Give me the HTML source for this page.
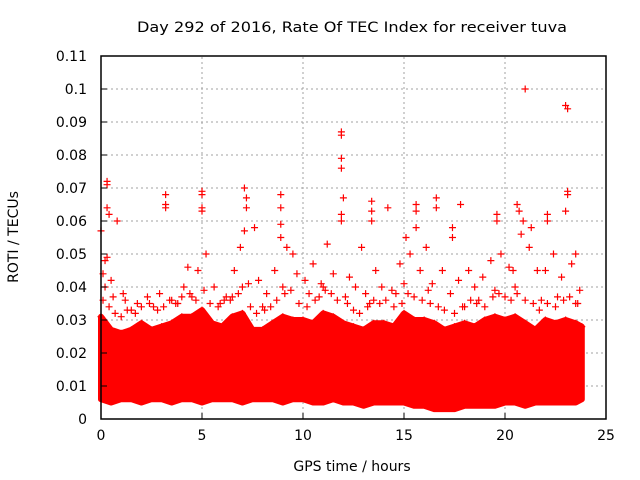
<!DOCTYPE html>
<html><head><meta charset="utf-8"><style>
html,body{margin:0;padding:0;background:#fff;}
svg{display:block;font-family:"DejaVu Sans","Liberation Sans",sans-serif;}
</style></head><body>
<svg id="chart" width="640" height="480" viewBox="0 0 640 480" xmlns="http://www.w3.org/2000/svg">
<rect width="640" height="480" fill="#fff"/>
<g id="grid"></g>
<g id="band"></g>
<g id="pts"></g>
<g id="axes"></g>
<text x="352" y="32" font-size="14" text-anchor="middle" textLength="430" lengthAdjust="spacingAndGlyphs">Day 292 of 2016, Rate Of TEC Index for receiver tuva</text>
<text x="352" y="471" font-size="14" text-anchor="middle">GPS time / hours</text>
<text transform="translate(18,237) rotate(-90)" font-size="14" text-anchor="middle">ROTI / TECUs</text>
</svg>
<script>
const xTicks=[0,5,10,15,20,25];
const yTicks=[0,0.01,0.02,0.03,0.04,0.05,0.06,0.07,0.08,0.09,0.1,0.11];
const yTickLabels=["0","0.01","0.02","0.03","0.04","0.05","0.06","0.07","0.08","0.09","0.1","0.11"];
const bandHours=[0,0.5,1,1.5,2,2.5,3,3.5,4,4.5,5,5.5,6,6.5,7,7.5,8,8.5,9,9.5,10,10.5,11,11.5,12,12.5,13,13.5,14,14.5,15,15.5,16,16.5,17,17.5,18,18.5,19,19.5,20,20.5,21,21.5,22,22.5,23,23.5,23.8];
const bandHi=[0.031,0.027,0.026,0.027,0.029,0.027,0.028,0.029,0.031,0.031,0.033,0.029,0.028,0.031,0.032,0.027,0.027,0.029,0.031,0.030,0.030,0.029,0.032,0.031,0.029,0.028,0.027,0.029,0.029,0.028,0.032,0.030,0.030,0.029,0.027,0.028,0.029,0.028,0.030,0.031,0.030,0.031,0.029,0.027,0.030,0.029,0.030,0.029,0.028];
const bandLo=[0.006,0.005,0.006,0.006,0.005,0.006,0.006,0.005,0.006,0.006,0.005,0.006,0.006,0.006,0.005,0.006,0.006,0.006,0.005,0.006,0.006,0.005,0.005,0.006,0.005,0.005,0.004,0.005,0.005,0.005,0.005,0.004,0.004,0.003,0.003,0.003,0.004,0.004,0.004,0.004,0.005,0.005,0.004,0.005,0.005,0.005,0.005,0.005,0.006];
const ptHours=[0,0.3,0.3,0.3,0.4,0.8,0.2,0.3,0.1,0.5,1.1,3.2,3.2,3.2,5,5,5,5,7.1,7.2,7.2,7.1,7.6,8.9,8.9,8.9,8.9,11.9,11.9,11.9,11.9,12,11.9,11.9,12.9,13.4,13.4,13.4,14.2,15.6,15.6,15.6,16.6,16.6,17.8,17.4,17.4,19.6,19.6,20.6,20.7,21,20.9,21.3,22.1,22.1,23,23.1,23.1,23.1,23,23.5,
0.2,0.6,1.2,1.8,2.3,2.9,3.5,4.1,4.3,4.8,5.2,5.6,6.2,6.6,6.9,7.3,7.8,8.2,8.6,9.2,9.5,9.7,10.1,10.5,10.9,11.2,11.5,12.3,12.6,13.1,13.6,13.9,14.4,14.8,15.1,15.3,15.8,16.1,16.4,16.9,17.3,17.7,18.2,18.5,18.9,19.3,19.8,20.2,20.4,20.8,21.2,21.6,22.0,22.4,22.8,23.3,23.7,
1.5,2.6,3.8,4.5,5.9,6.4,8.0,9.0,10.3,11.0,12.1,13.3,14.6,15.0,16.2,17.9,18.7,19.5,20.5,21.8,22.6,23.6,
0.1,0.4,0.7,1.0,1.3,1.7,2.0,2.4,2.8,3.1,3.4,3.7,4.0,4.4,4.7,5.1,5.4,5.8,6.1,6.5,6.8,7.0,7.4,7.7,8.1,8.4,8.7,9.1,9.4,9.8,10.2,10.6,10.8,11.1,11.4,11.7,12.2,12.5,12.8,13.2,13.5,13.8,14.1,14.5,14.9,15.2,15.5,15.9,16.3,16.7,17.0,17.5,18.0,18.3,18.6,19.0,19.4,19.7,20.0,20.3,20.6,21.0,21.4,21.7,22.1,22.5,22.9,23.2,23.5];
const ptRoti=[0.057,0.072,0.071,0.064,0.062,0.060,0.048,0.049,0.044,0.042,0.038,0.068,0.065,0.064,0.069,0.068,0.063,0.064,0.070,0.067,0.064,0.057,0.058,0.068,0.064,0.059,0.055,0.087,0.086,0.079,0.076,0.067,0.062,0.060,0.052,0.063,0.066,0.060,0.064,0.065,0.063,0.058,0.067,0.064,0.065,0.058,0.055,0.062,0.060,0.065,0.063,0.100,0.060,0.058,0.062,0.060,0.095,0.094,0.069,0.068,0.063,0.050,
0.040,0.037,0.036,0.035,0.037,0.038,0.036,0.040,0.046,0.045,0.050,0.040,0.037,0.045,0.052,0.041,0.042,0.038,0.045,0.052,0.050,0.044,0.042,0.047,0.041,0.053,0.044,0.043,0.040,0.038,0.045,0.040,0.039,0.047,0.055,0.050,0.045,0.052,0.041,0.045,0.038,0.042,0.045,0.040,0.043,0.048,0.050,0.046,0.045,0.056,0.052,0.045,0.045,0.050,0.043,0.047,0.039,
0.033,0.034,0.035,0.037,0.035,0.036,0.034,0.040,0.038,0.040,0.037,0.035,0.038,0.041,0.039,0.034,0.036,0.039,0.040,0.036,0.037,0.035,
0.036,0.034,0.032,0.031,0.033,0.032,0.034,0.035,0.033,0.034,0.036,0.035,0.037,0.038,0.036,0.039,0.035,0.034,0.036,0.037,0.038,0.040,0.034,0.032,0.033,0.034,0.036,0.038,0.039,0.035,0.034,0.036,0.037,0.039,0.038,0.036,0.035,0.033,0.032,0.034,0.036,0.035,0.036,0.034,0.035,0.038,0.037,0.036,0.035,0.034,0.033,0.032,0.034,0.036,0.035,0.034,0.037,0.038,0.037,0.036,0.038,0.036,0.035,0.033,0.035,0.034,0.036,0.037,0.035];
const NS="http://www.w3.org/2000/svg";
const X0=101,X1=606,Y0=419,Y1=56;
function xs(h){return X0+(h-0)/(25-0)*(X1-X0);}
function ys(v){return Y0-(v-0)/(0.11-0)*(Y0-Y1);}
function mk(t,a,p){const e=document.createElementNS(NS,t);for(const k in a)e.setAttribute(k,a[k]);(p||document.getElementById('chart')).appendChild(e);return e;}
const grid=document.getElementById('grid'),axes=document.getElementById('axes');
yTicks.forEach((v,i)=>{
  const y=ys(v);
  if(i>0&&i<yTicks.length-1){const g=mk('line',{x1:X0,x2:X1,y1:y,y2:y,stroke:'#a0a0a0','stroke-dasharray':'2,3','stroke-width':1},grid);
  
  }
  const t=mk('line',{x1:X0,x2:X0+6,y1:y,y2:y,stroke:'#000'},axes);
  
  
  const l=mk('text',{x:X0-14,y:y+5,'font-size':14,'text-anchor':'end'},axes);
  l.textContent=yTickLabels[i];
  
  
});
xTicks.forEach((h,i)=>{
  const x=xs(h);
  if(i>0&&i<xTicks.length-1){const g=mk('line',{x1:x,x2:x,y1:Y0,y2:Y1,stroke:'#a0a0a0','stroke-dasharray':'2,3','stroke-width':1},grid);
  
  }
  const t=mk('line',{x1:x,x2:x,y1:Y0,y2:Y0-6,stroke:'#000'},axes);
  
  
  const l=mk('text',{x:x,y:Y0+21,'font-size':14,'text-anchor':'middle'},axes);
  l.textContent=String(h);
  
  
});
const fr=mk('rect',{x:X0,y:Y1,width:X1-X0,height:Y0-Y1,fill:'none',stroke:'#000','stroke-width':1.5},axes);


let d='';
bandHours.forEach((h,i)=>{d+=(i?'L':'M')+xs(h).toFixed(1)+','+ys(bandHi[i]).toFixed(1);});
for(let i=bandHours.length-1;i>=0;i--){d+='L'+xs(bandHours[i]).toFixed(1)+','+ys(bandLo[i]).toFixed(1);}
const bp=mk('path',{d:d+'Z',fill:'#ff0000',stroke:'#ff0000','stroke-width':6,'stroke-linejoin':'round'},document.getElementById('band'));


const pg=document.getElementById('pts');
bandHours.forEach((h,i)=>{
  const x=xs(h),y=ys(bandHi[i]);
  const c=mk('path',{d:`M${x-3.5},${y}H${x+3.5}M${x},${y-3.5}V${y+3.5}`,stroke:'#ff0000','stroke-width':1.2},pg);
  
  
});
ptHours.forEach((h,i)=>{
  const x=xs(h),y=ys(ptRoti[i]);
  const c=mk('path',{d:`M${x-3.5},${y}H${x+3.5}M${x},${y-3.5}V${y+3.5}`,stroke:'#ff0000','stroke-width':1.2},pg);
  
  
});
</script>
</body></html>
